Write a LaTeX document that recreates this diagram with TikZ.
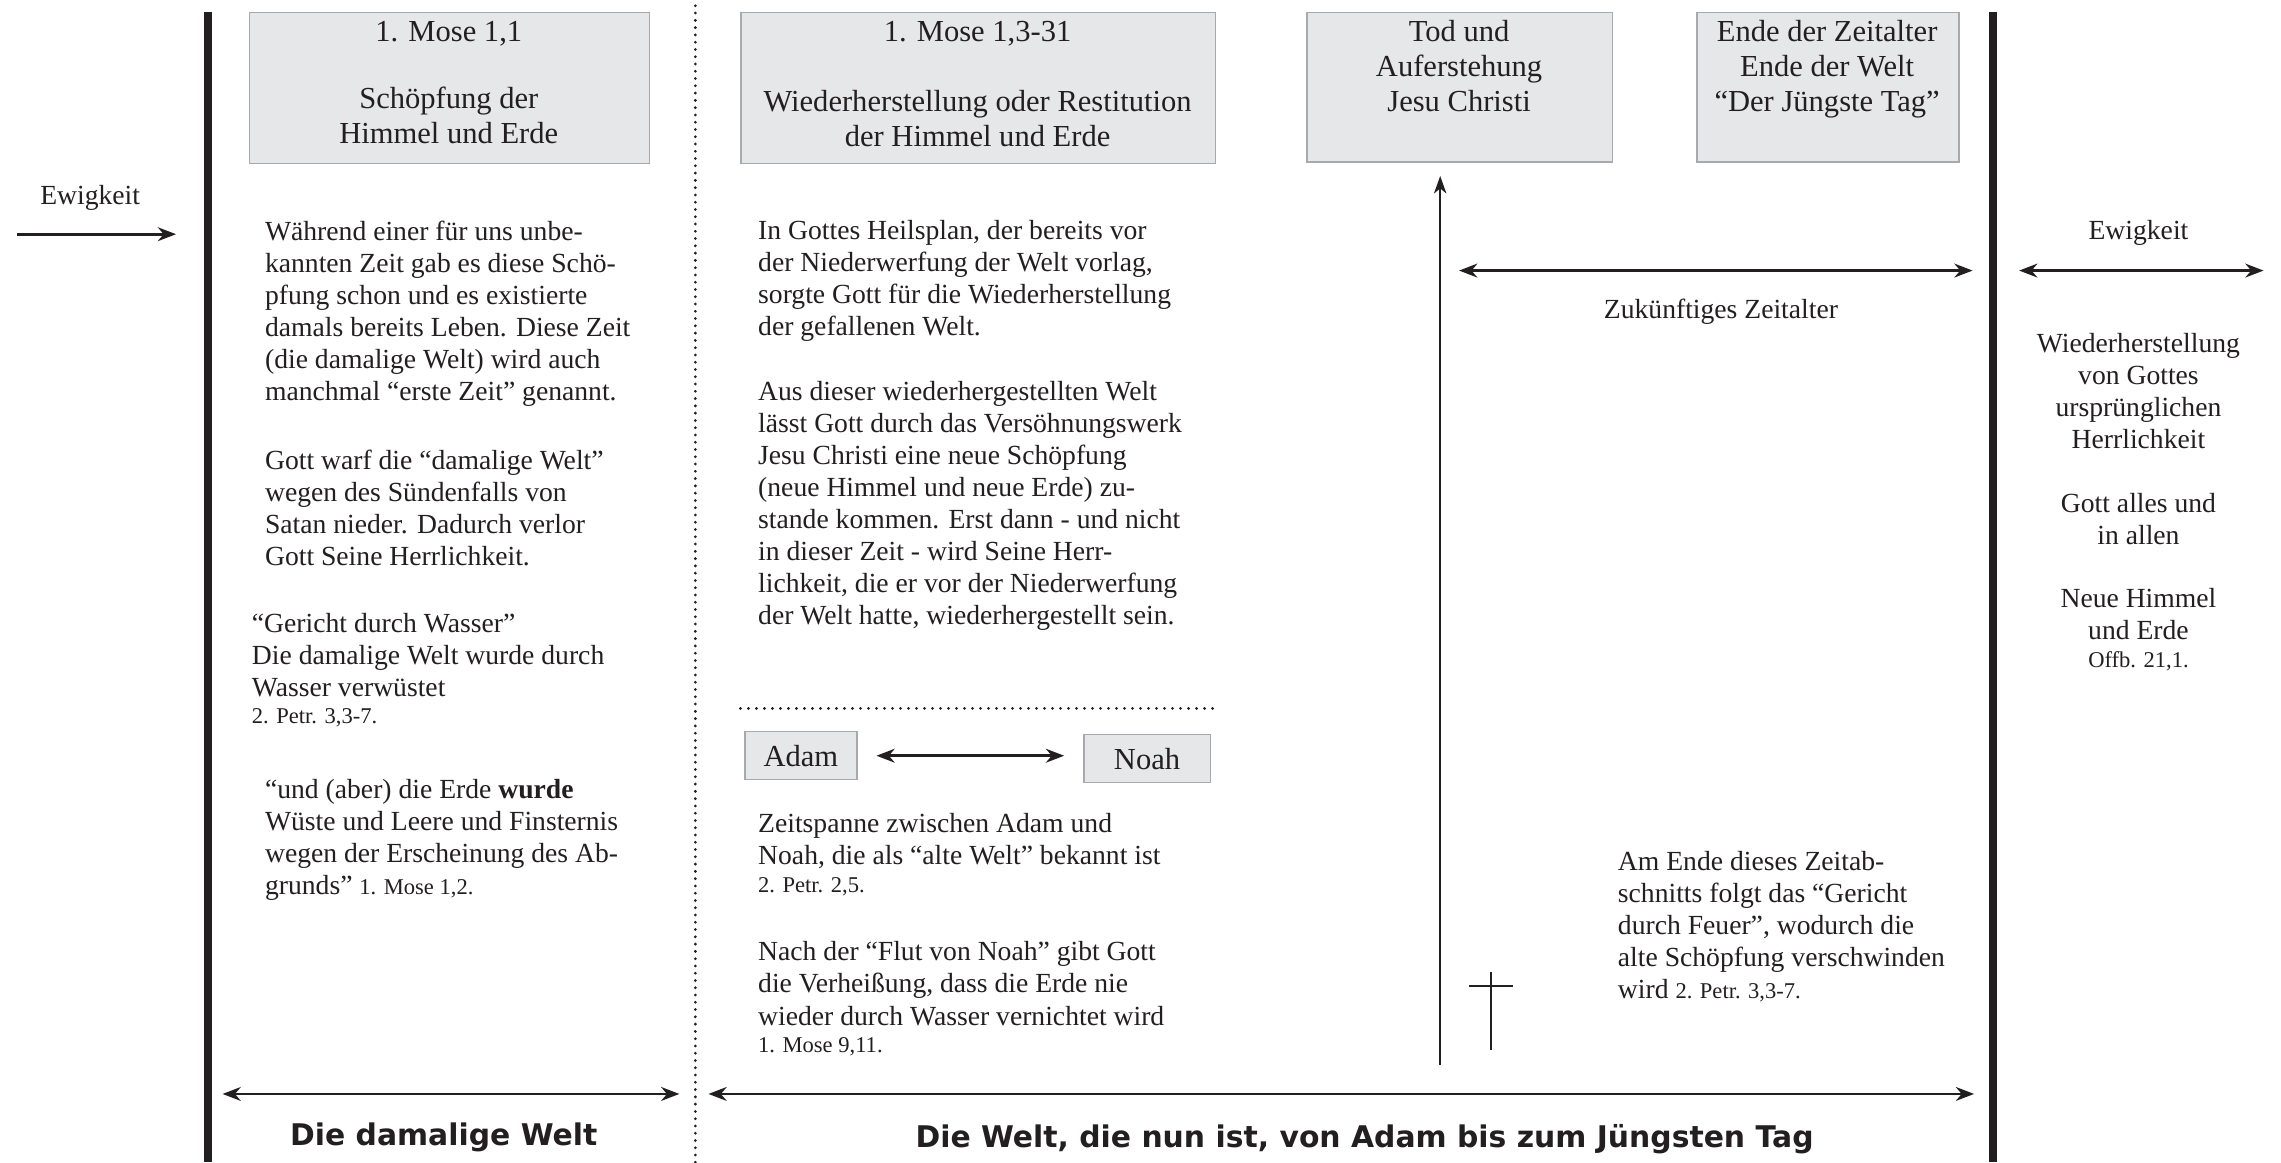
\documentclass[tikz,border=0pt]{standalone}
\usepackage{fontspec}
\setmainfont{Liberation Serif}
\newfontfamily\titlefont{DejaVu Sans}
\usetikzlibrary{arrows.meta}
\definecolor{boxfill}{HTML}{E6E7E8}
\definecolor{boxline}{HTML}{A7A9AC}
\definecolor{ink}{HTML}{231F20}
\newcommand\bodyfont{\fontsize{19}{22}\selectfont}
\newcommand\boxfont{\fontsize{21}{24}\selectfont}
\newcommand\reffont{\fontsize{15.5}{17}\selectfont}
\begin{document}
\begin{tikzpicture}[x=1pt,y=-1pt,
 gbox/.style={draw=boxline, fill=boxfill, line width=1pt, inner sep=0pt},
 boxtxt/.style={font=\boxfont, align=center, anchor=north, inner sep=0pt, text=ink},
 para/.style={font=\bodyfont, align=left, anchor=north west, inner sep=0pt, text=ink},
 cpara/.style={font=\bodyfont, align=center, anchor=north, inner sep=0pt, text=ink},
 bar/.style={line width=6pt, draw=ink},
 vdots/.style={line width=2.1pt, dash pattern=on 0pt off 5pt, line cap=round, draw=ink},
 hdots/.style={line width=2.1pt, dash pattern=on 0pt off 5.5pt, line cap=round, draw=ink},
 dbl/.style={line width=1.9pt, draw=ink, {Stealth[length=12.5pt,width=9.5pt,inset=4pt]}-{Stealth[length=12.5pt,width=9.5pt,inset=4pt]}},
 sgl/.style={line width=1.8pt, draw=ink, -{Stealth[length=12.5pt,width=9.5pt,inset=4pt]}},
 thin/.style={line width=1.4pt, draw=ink},
 title/.style={font=\titlefont\bfseries\fontsize{20.5}{24}\selectfont, text=ink, inner sep=0pt}
]
\useasboundingbox (0,0) rectangle (1568,799);
\fill[white] (0,0) rectangle (1568,799);

% vertical separators
\coordinate (lbt) at (143,8); \coordinate (lbb) at (143,799);
\coordinate (rbt) at (1370,8); \coordinate (rbb) at (1370,799);
\coordinate (dvt) at (478,4); \coordinate (dvb) at (478,799);
\draw[bar] (lbt) -- (lbb);
\draw[bar] (rbt) -- (rbb);
\draw[vdots] (dvt) -- (dvb);

% top boxes
\node[gbox, anchor=north west, minimum width=275pt, minimum height=104pt] (b1) at (171,8) {};
\node[boxtxt] (t1) at (308.5,11.5) {\strut 1. Mose 1,1\\[22pt]Schöpfung der\\Himmel und Erde};
\node[gbox, anchor=north west, minimum width=326pt, minimum height=104pt] (b2) at (509,8) {};
\node[boxtxt] (t2) at (672,11.5) {\strut 1. Mose 1,3-31\\[24pt]Wiederherstellung oder Restitution\\der Himmel und Erde};
\node[gbox, anchor=north west, minimum width=210pt, minimum height=103pt] (b3) at (898,8) {};
\node[boxtxt] (t3) at (1003,11.5) {\strut Tod und\\Auferstehung\\Jesu Christi};
\node[gbox, anchor=north west, minimum width=180pt, minimum height=103pt] (b4) at (1166,8) {};
\node[boxtxt] (t4) at (1256,11.5) {\strut Ende der Zeitalter\\Ende der Welt\\“Der Jüngste Tag”};

% left eternity
\node[font=\bodyfont, text=ink, inner sep=0pt] (ewl) at (62,136) {Ewigkeit};
\coordinate (ewl1) at (12,161); \coordinate (ewl2) at (121,161);
\draw[sgl] (ewl1) -- (ewl2);

% left column texts
\node[para] (pA) at (182,150) {\strut Während einer für uns unbe-\\kannten Zeit gab es diese Schö-\\pfung schon und es existierte\\damals bereits Leben. Diese Zeit\\(die damalige Welt) wird auch\\manchmal “erste Zeit” genannt.};
\node[para] (pB) at (182,307) {\strut Gott warf die “damalige Welt”\\wegen des Sündenfalls von\\Satan nieder. Dadurch verlor\\Gott Seine Herrlichkeit.};
\node[para] (pC) at (173,419) {\strut “Gericht durch Wasser”\\Die damalige Welt wurde durch\\Wasser verwüstet\\[-3pt]{\reffont 2. Petr. 3,3-7.}};
\node[para] (pD) at (182,533) {\strut “und (aber) die Erde \textbf{wurde}\\Wüste und Leere und Finsternis\\wegen der Erscheinung des Ab-\\grunds” {\reffont 1. Mose 1,2.}};

% middle column texts
\node[para] (pE) at (521,149) {\strut In Gottes Heilsplan, der bereits vor\\der Niederwerfung der Welt vorlag,\\sorgte Gott für die Wiederherstellung\\der gefallenen Welt.};
\node[para] (pF) at (521,260) {\strut Aus dieser wiederhergestellten Welt\\lässt Gott durch das Versöhnungswerk\\Jesu Christi eine neue Schöpfung\\(neue Himmel und neue Erde) zu-\\stande kommen. Erst dann - und nicht\\in dieser Zeit - wird Seine Herr-\\lichkeit, die er vor der Niederwerfung\\der Welt hatte, wiederhergestellt sein.};

\coordinate (hd1) at (509,487); \coordinate (hd2) at (838,487);
\draw[hdots] (hd1) -- (hd2);

\node[gbox, font=\boxfont, text=ink, minimum width=77pt, minimum height=33pt] (adam) at (550.5,519.5) {Adam};
\node[gbox, font=\boxfont, text=ink, minimum width=87pt, minimum height=33pt] (noah) at (788.5,521.5) {Noah};
\draw[dbl, shorten <=13pt, shorten >=13pt] (adam.east) -- (adam.east -| noah.west);

\node[para] (pG) at (521,557) {\strut Zeitspanne zwischen Adam und\\Noah, die als “alte Welt” bekannt ist\\[-3pt]{\reffont 2. Petr. 2,5.}};
\node[para] (pH) at (521,645) {\strut Nach der “Flut von Noah” gibt Gott\\die Verheißung, dass die Erde nie\\wieder durch Wasser vernichtet wird\\[-3pt]{\reffont 1. Mose 9,11.}};

% future age
\coordinate (va1) at (990,732); \coordinate (va2) at (990,121);
\draw[thin, -{Stealth[length=12pt,width=8.5pt,inset=3.5pt]}] (va1) -- (va2);
\coordinate (cr1) at (1025,668); \coordinate (cr2) at (1025,722);
\coordinate (cr3) at (1010,678); \coordinate (cr4) at (1040,678);
\draw[thin] (cr1) -- (cr2);
\draw[thin] (cr3) -- (cr4);
\coordinate (za1) at (1003,186); \coordinate (za2) at (1356,186);
\draw[dbl] (za1) -- (za2);
\node[font=\bodyfont, text=ink, inner sep=0pt] (zat) at (1183,214) {Zukünftiges Zeitalter};
\node[para] (pI) at (1112,583) {\strut Am Ende dieses Zeitab-\\schnitts folgt das “Gericht\\durch Feuer”, wodurch die\\alte Schöpfung verschwinden\\wird {\reffont 2. Petr. 3,3-7.}};

% right eternity
\node[font=\bodyfont, text=ink, inner sep=0pt] (ewr) at (1470,160) {Ewigkeit};
\coordinate (er1) at (1388,186); \coordinate (er2) at (1556,186);
\draw[dbl] (er1) -- (er2);
\node[cpara] (pJ) at (1470,227) {\strut Wiederherstellung\\von Gottes\\ursprünglichen\\Herrlichkeit};
\node[cpara] (pK) at (1470,337) {\strut Gott alles und\\in allen};
\node[cpara] (pL) at (1470,402) {\strut Neue Himmel\\und Erde\\[-3pt]{\reffont Offb. 21,1.}};

% bottom spans
\coordinate (bl1) at (153,752); \coordinate (bl2) at (467,752);
\draw[dbl] (bl1) -- (bl2);
\coordinate (br1) at (487,752); \coordinate (br2) at (1357,752);
\draw[dbl] (br1) -- (br2);
\node[title] (tl) at (305,782) {Die damalige Welt};
\node[title] (tr) at (938,783) {Die Welt, die nun ist, von Adam bis zum Jüngsten Tag};
\end{tikzpicture}
\end{document}
